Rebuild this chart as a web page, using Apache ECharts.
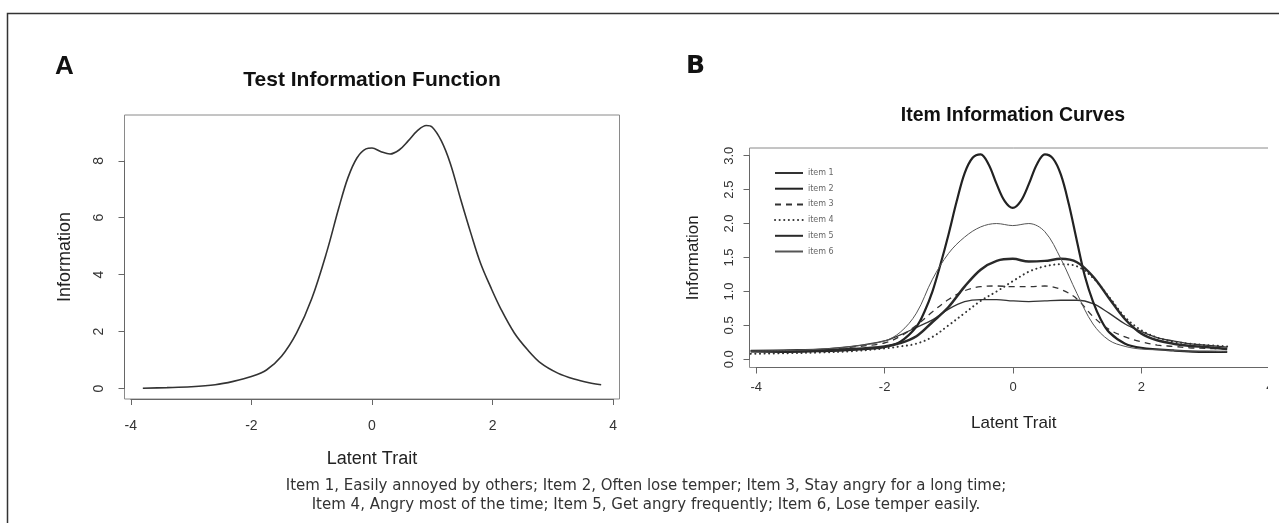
<!DOCTYPE html>
<html>
<head>
<meta charset="utf-8">
<title>Test and item information</title>
<script src="https://cdn.jsdelivr.net/npm/echarts@6/dist/echarts.min.js"></script>
<style>
  html, body { margin: 0; padding: 0; background: #fff; }
  #main { width: 1279px; height: 523px; }
</style>
</head>
<body>
<div id="main"></div>
<script>
// A: test information function
var thetaA = [-3.8, -3.4, -3.0, -2.6, -2.3, -2.0, -1.75, -1.5, -1.25, -1.0, -0.75, -0.55, -0.4, -0.25, -0.1, 0.0,
  0.15, 0.3, 0.45, 0.6, 0.75, 0.9, 1.0, 1.15, 1.3, 1.47, 1.64, 1.8, 1.97, 2.14, 2.36, 2.58, 2.8, 3.08, 3.35, 3.6, 3.8];
var testInfo = [0.01, 0.03, 0.06, 0.13, 0.25, 0.42, 0.65, 1.13, 1.95, 3.15, 4.8, 6.35, 7.4, 8.1, 8.42, 8.45,
  8.32, 8.24, 8.38, 8.7, 9.05, 9.24, 9.18, 8.7, 7.9, 6.65, 5.45, 4.4, 3.55, 2.78, 1.95, 1.36, 0.89, 0.54, 0.33, 0.2, 0.13];

// B: item information curves
var thetaB = [-4.08, -3.5, -3.0, -2.5, -2.0, -1.75, -1.5, -1.25, -1.0, -0.75, -0.5, -0.25, 0,
  0.25, 0.5, 0.75, 1.0, 1.25, 1.5, 1.75, 2.0, 2.25, 2.5, 2.75, 3.0, 3.34];
var item1 = [0.13, 0.14, 0.15, 0.19, 0.27, 0.36, 0.47, 0.58, 0.74, 0.85, 0.88, 0.88, 0.86,
  0.85, 0.86, 0.87, 0.87, 0.82, 0.68, 0.52, 0.41, 0.32, 0.27, 0.23, 0.21, 0.18];
var item3 = [0.12, 0.13, 0.14, 0.18, 0.24, 0.34, 0.5, 0.7, 0.88, 1.01, 1.07, 1.08, 1.07,
  1.07, 1.08, 1.03, 0.89, 0.63, 0.44, 0.33, 0.26, 0.21, 0.19, 0.17, 0.16, 0.15];
var item4 = [0.08, 0.09, 0.1, 0.12, 0.16, 0.19, 0.23, 0.33, 0.5, 0.68, 0.86, 1.0, 1.15,
  1.29, 1.37, 1.4, 1.37, 1.2, 0.92, 0.62, 0.43, 0.32, 0.26, 0.23, 0.21, 0.19];
var item5 = [0.12, 0.12, 0.13, 0.15, 0.19, 0.24, 0.34, 0.55, 0.77, 1.07, 1.32, 1.45, 1.48,
  1.44, 1.45, 1.48, 1.43, 1.22, 0.9, 0.59, 0.38, 0.28, 0.23, 0.2, 0.18, 0.15];
var item6 = [0.12, 0.13, 0.15, 0.19, 0.27, 0.4, 0.68, 1.18, 1.56, 1.8, 1.95, 2.0, 1.97,
  2.0, 1.88, 1.48, 0.97, 0.52, 0.28, 0.19, 0.15, 0.14, 0.13, 0.12, 0.12, 0.11];
// item 2 has two sharp peaks, read on a finer grid
var thetaItem2 = [-4.08, -3.5, -3.0, -2.5, -2.0, -1.75, -1.5, -1.375, -1.25, -1.125, -1.0, -0.875, -0.75, -0.625,
  -0.5, -0.375, -0.25, -0.125, 0, 0.125, 0.25, 0.375, 0.5, 0.625, 0.75, 0.875, 1.0, 1.125, 1.25, 1.375,
  1.5, 1.75, 2.0, 2.5, 3.0, 3.34];
var item2 = [0.12, 0.11, 0.12, 0.14, 0.18, 0.26, 0.48, 0.7, 1.0, 1.4, 1.84, 2.32, 2.74, 2.97,
  3.02, 2.87, 2.58, 2.33, 2.23, 2.33, 2.58, 2.87, 3.02, 2.96, 2.72, 2.28, 1.74, 1.22, 0.85, 0.58,
  0.4, 0.23, 0.17, 0.13, 0.11, 0.11];
var itemNames = ["item 1", "item 2", "item 3", "item 4", "item 5", "item 6"];

var caption = "Item 1, Easily annoyed by others; Item 2, Often lose temper; Item 3, Stay angry for a long time;\n" +
  "Item 4, Angry most of the time; Item 5, Get angry frequently; Item 6, Lose temper easily.";

var FONT = "Liberation Sans, Arial, sans-serif";

function pairs(xs, ys) {
  return xs.map(function (x, i) { return [x, ys[i]]; });
}

// hidden axis that only carries the axis title (centered on the plot box)
function nameAxis(grid, min, max, name, gap, size) {
  return {
    gridIndex: grid, type: "value", min: min, max: max,
    axisLine: { show: false }, axisTick: { show: false }, axisLabel: { show: false }, splitLine: { show: false },
    name: name, nameLocation: "middle", nameGap: gap,
    nameTextStyle: { fontSize: size, color: "#222", fontFamily: FONT },
  };
}

// R style axis: line only spans the first to last tick
function tickAxis(grid, min, max, step, offset, size, margin, rotate, digits) {
  return {
    gridIndex: grid, type: "value", min: min, max: max, interval: step, offset: offset,
    axisLine: { show: true, lineStyle: { color: "#666", width: 1 } },
    axisTick: { show: true, length: 6, lineStyle: { color: "#666" } },
    axisLabel: {
      fontSize: size, color: "#333", fontFamily: FONT, margin: margin, rotate: rotate,
      formatter: function (v) { return v.toFixed(digits); },
    },
    splitLine: { show: false },
  };
}

function blank(grid, min, max) {
  return { gridIndex: grid, type: "value", min: min, max: max, show: false };
}

var lineStyles = [
  { width: 1.3, color: "#333", type: "solid" },
  { width: 2.2, color: "#222", type: "solid" },
  { width: 1.3, color: "#333", type: [6, 5] },
  { width: 2, color: "#333", type: [0.1, 4.5], cap: "round" },
  { width: 2.5, color: "#2a2a2a", type: "solid" },
  { width: 1, color: "#555", type: "solid" },
];
var itemData = [pairs(thetaB, item1), pairs(thetaItem2, item2), pairs(thetaB, item3),
  pairs(thetaB, item4), pairs(thetaB, item5), pairs(thetaB, item6)];

var myChart = echarts.init(document.getElementById("main"), null, { renderer: "canvas" });

var option = {
  animation: false,
  backgroundColor: "#fff",
  title: [
    { text: "A", left: 55, top: 54, padding: 0, textStyle: { fontSize: 26, fontWeight: "bold", color: "#111", fontFamily: FONT } },
    { text: "B", left: 686, top: 54, padding: 0, textStyle: { fontSize: 25, fontWeight: "bold", color: "#111", fontFamily: "DejaVu Sans, sans-serif" } },
    { text: "Test Information Function", left: 372, top: 70, padding: 0, textAlign: "center",
      textStyle: { fontSize: 21, fontWeight: "bold", color: "#111", fontFamily: FONT } },
    { text: "Item Information Curves", left: 1013, top: 106, padding: 0, textAlign: "center",
      textStyle: { fontSize: 19.5, fontWeight: "bold", color: "#111", fontFamily: FONT } },
    { text: caption, left: 646, top: 476, padding: 0, textAlign: "center",
      textStyle: { fontSize: 15, fontWeight: "normal", lineHeight: 19.5, color: "#333", fontFamily: "DejaVu Sans, sans-serif" } },
  ],
  legend: {
    orient: "vertical", left: 774, top: 169, padding: 0,
    itemWidth: 28, itemHeight: 8, itemGap: 7.7,
    itemStyle: { opacity: 0 },
    textStyle: { fontSize: 8, color: "#666", fontFamily: "DejaVu Sans, sans-serif" },
    data: itemNames,
  },
  grid: [
    { left: 124.5, top: 115, width: 495, height: 284, show: true, borderColor: "#8a8a8a", borderWidth: 1 },
    { left: 130.8, top: 115, width: 482.4, height: 284 },
    { left: 124.5, top: 160.8, width: 495, height: 227.7 },
    { left: 749.5, top: 148, width: 528.4, height: 219.5, show: true, borderColor: "#8a8a8a", borderWidth: 1 },
    { left: 756.2, top: 148, width: 513.6, height: 219.5 },
    { left: 749.5, top: 155.7, width: 528.4, height: 203.6 },
  ],
  xAxis: [
    nameAxis(0, -4.104, 4.104, "Latent Trait", 51, 18),
    tickAxis(1, -4, 4, 2, 4, 14, 16, 0, 0),
    blank(2, 0, 1),
    nameAxis(3, -4.1, 4.13, "Latent Trait", 47, 17),
    tickAxis(4, -4, 4, 2, 0, 13, 13, 0, 0),
    blank(5, 0, 1),
  ],
  yAxis: [
    nameAxis(0, -0.37, 9.61, "Information", 50, 18),
    blank(1, 0, 1),
    tickAxis(2, 0, 8, 2, 6.5, 14, 12, 90, 0),
    nameAxis(3, -0.121, 3.113, "Information", 48, 17),
    blank(4, 0, 1),
    tickAxis(5, 0, 3, 0.5, 0, 13, 14, 90, 1),
  ],
  series: [
    {
      name: "Test information", type: "line", xAxisIndex: 0, yAxisIndex: 0,
      data: pairs(thetaA, testInfo), smooth: 0.35, symbol: "none",
      lineStyle: { width: 1.6, color: "#333" },
    },
  ].concat(itemNames.map(function (name, i) {
    return {
      name: name, type: "line", xAxisIndex: 3, yAxisIndex: 3,
      data: itemData[i], smooth: 0.35, symbol: "none",
      color: lineStyles[i].color,
      lineStyle: lineStyles[i],
    };
  })),
  graphic: [
    // outer figure frame
    { type: "rect", silent: true, shape: { x: 7.5, y: 13.5, width: 1400, height: 600 },
      style: { fill: "none", stroke: "#333", lineWidth: 1.5 } },
    // right side of panel B is cropped in the source figure
    { type: "rect", silent: true, z: 100, shape: { x: 1268, y: 140, width: 20, height: 300 },
      style: { fill: "#fff" } },
  ],
};

myChart.setOption(option);
window.addEventListener("resize", function () {
  myChart.resize();
});
</script>
</body>
</html>
